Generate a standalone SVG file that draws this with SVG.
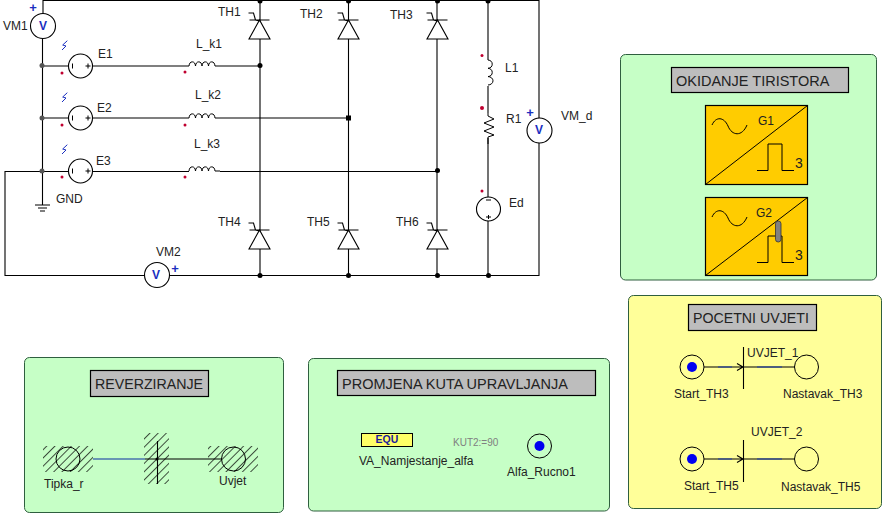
<svg xmlns="http://www.w3.org/2000/svg" width="882" height="513" viewBox="0 0 882 513">
<style>
text{font-family:"Liberation Sans",Arial,sans-serif;font-size:12px;fill:#222}
.t{font-size:14.5px}
.t2{font-size:14.2px}
.w{fill:none;stroke:#000;stroke-width:1.1}
.f{fill:#fff;stroke:#000;stroke-width:1.1}
.n{fill:none;stroke:#000;stroke-width:1}
.v{font-size:12px;font-weight:bold;fill:#1a2fc0}
.p{font-weight:bold;font-size:13px;fill:#1a2fc0}
.pg{stroke:#2f5f3f;stroke-width:1}
.title{fill:#bdbdbd;stroke:#000;stroke-width:1.2}
.r{fill:#c00030}
.g{fill:#ffcc00;stroke:#000;stroke-width:1.2}
.d{fill:#000}
.m{fill:#555}
.b{fill:#0000f0}
.bw{fill:none;stroke:#1a3fb0;stroke-width:1.2}
.big{font-size:14px}
</style>
<defs>
<pattern id="h" width="5.800" height="5.800" patternUnits="userSpaceOnUse" patternTransform="rotate(-45)"><line x1="0" y1="0.5" x2="5.800" y2="0.5" stroke="#000" stroke-width="0.7"/></pattern>
<g id="thy"><path class="f" d="M0 0L-10.500 19H10.500Z"/><path class="w" d="M-10 0H10M-11 -7H-6L-4 0L0 1"/></g>
<g id="src"><circle class="f" r="12"/><path class="n" d="M-8 -2.500V2.500M7.500 -2.500V2.500M5 0H10"/></g>
<path id="coil" class="n" d="M0 0A3.300 5 0 0 1 6.500 0A3.300 5 0 0 1 13 0A3.300 5 0 0 1 19.500 0A3.300 5 0 0 1 26 0H31"/>
<g id="sig"><path class="n" d="M-24 -18C-20 -27 -12 -26 -8 -17C-4 -7 6 -6 11 -18"/><path class="n" d="M21 27.500H32V1H46V27.500H58"/></g>
<g id="wave"><path d="M5.300 -10.300L0.700 -6L4 -5L0 -1" fill="none" stroke="#1a2fc0" stroke-width="1"/></g>
</defs>
<rect width="882" height="513" fill="#fff"/>
<g id="connectors">
<path class="w" d="M43 14V0.500H539V275.500H5V171.500H80M42.500 38V205M42 66H260M42 118H348M80 171.500H437"/>
<path class="w" d="M260 0V275.500M348.500 0V275.500M437 0V275.500M488 0V275.500"/>
<circle class="d" cx="260" cy="1" r="2.500"/><circle class="d" cx="348.500" cy="1" r="2.500"/><circle class="d" cx="437.500" cy="1" r="2.500"/><circle class="d" cx="488" cy="1" r="2.500"/>
<circle class="d" cx="260" cy="65.500" r="2.500"/><rect class="d" x="346" y="115.500" width="5" height="5"/><circle class="d" cx="437.500" cy="170.500" r="2.500"/>
<circle class="d" cx="260" cy="275.500" r="2.500"/><circle class="d" cx="348.500" cy="275.500" r="2.500"/><circle class="d" cx="437.500" cy="275.500" r="2.500"/><circle class="d" cx="488.500" cy="275.500" r="2.500"/>
<circle class="m" cx="42" cy="65.500" r="2.500"/><circle class="m" cx="42" cy="118" r="2.500"/><circle class="m" cx="42" cy="171" r="2.500"/>
</g>
<g id="VM1"><circle class="f" cx="43" cy="26" r="12.500"/><text class="v" x="43" y="30" text-anchor="middle">V</text><text class="p" x="33" y="12" text-anchor="middle">+</text><text x="3" y="30">VM1</text></g>
<g id="E1"><use href="#src" x="80.500" y="66"/><use href="#wave" x="62" y="51"/><circle class="r" cx="62" cy="73" r="1.500"/><text x="98" y="58">E1</text></g>
<g id="E2"><use href="#src" x="80.500" y="118"/><use href="#wave" x="62" y="103"/><circle class="r" cx="62" cy="125" r="1.500"/><text x="97" y="112">E2</text></g>
<g id="E3"><use href="#src" x="80.500" y="171"/><use href="#wave" x="62" y="155"/><circle class="r" cx="62" cy="177" r="1.500"/><text x="96" y="165">E3</text></g>
<g id="GND"><path class="w" d="M35 205H50M38 208H47M40 211H45"/><text x="56" y="203">GND</text></g>
<g id="L_k1"><rect x="189" y="60" width="31" height="10" fill="#fff"/><use href="#coil" x="189" y="66"/><circle class="r" cx="185" cy="72" r="1.500"/><text x="196" y="48">L_k1</text></g>
<g id="L_k2"><rect x="189" y="112" width="31" height="10" fill="#fff"/><use href="#coil" x="189" y="118"/><circle class="r" cx="185" cy="125" r="1.500"/><text x="195" y="99">L_k2</text></g>
<g id="L_k3"><rect x="189" y="165" width="31" height="10" fill="#fff"/><use href="#coil" x="189" y="171"/><circle class="r" cx="185" cy="177" r="1.500"/><text x="194" y="148">L_k3</text></g>
<g id="TH1"><use href="#thy" x="259.500" y="20"/><text x="218" y="16">TH1</text></g>
<g id="TH2"><use href="#thy" x="348.500" y="20"/><text x="300" y="18">TH2</text></g>
<g id="TH3"><use href="#thy" x="437.500" y="20"/><text x="390" y="19">TH3</text></g>
<g id="TH4"><use href="#thy" x="259.500" y="230"/><text x="218" y="226">TH4</text></g>
<g id="TH5"><use href="#thy" x="348.500" y="230"/><text x="307" y="226">TH5</text></g>
<g id="TH6"><use href="#thy" x="437.500" y="230"/><text x="396" y="226">TH6</text></g>
<g id="VM2"><circle class="f" cx="157" cy="275" r="12.500"/><text class="v" x="156" y="279" text-anchor="middle">V</text><text class="p" x="175" y="273" text-anchor="middle">+</text><text x="156" y="256">VM2</text></g>
<g id="L1"><rect x="484" y="60" width="8" height="26" fill="#fff"/><path class="n" d="M488 60A5 4.200 0 0 1 488 68.300A5 4.200 0 0 1 488 76.600A5 4.200 0 0 1 488 85"/><circle class="r" cx="482" cy="55.500" r="1.500"/><text x="505" y="72">L1</text></g>
<g id="R1"><rect x="484" y="113" width="10" height="25" fill="#fff"/><path class="n" d="M488 113V116L494 119L484 123L494 127L484 131L494 135L488 137V144"/><circle class="r" cx="482" cy="108" r="2"/><text x="506" y="123">R1</text></g>
<g id="VM_d"><circle class="f" cx="539.500" cy="130.500" r="12.500"/><text class="v" x="539" y="134" text-anchor="middle">V</text><text class="p" x="530" y="117" text-anchor="middle">+</text><text x="561" y="120">VM_d</text></g>
<g id="Ed"><circle class="f" cx="488.500" cy="209" r="12"/><path class="n" d="M486 200H491M486 217H491M488.500 215V219"/><circle class="r" cx="482" cy="191" r="1.500"/><text x="509" y="207">Ed</text></g>
<g id="OKIDANJE">
<rect class="pg" x="620.500" y="54.500" width="256" height="225.500" rx="5" fill="#c6ffc6"/>
<rect class="title" x="671.500" y="67.500" width="177" height="25"/>
<text class="t" x="676" y="86">OKIDANJE TIRISTORA</text>
<g id="G1"><rect class="g" x="705.500" y="105.500" width="102" height="79"/><path class="n" d="M705.500 184.500L807.500 105.500"/><use href="#sig" x="736" y="143"/><text x="758" y="125">G1</text><text class="big" x="795" y="168">3</text></g>
<g id="G2"><rect class="g" x="705.500" y="197.500" width="102" height="78"/><path class="n" d="M705.500 275.500L807.500 197.500"/><use href="#sig" x="736" y="235"/><rect x="775.500" y="221" width="5.500" height="21" rx="2.700" fill="#808080" stroke="#333" stroke-width=".8"/><text x="756" y="217">G2</text><text class="big" x="795" y="260">3</text></g>
</g>
<g id="POCETNI">
<rect class="pg" x="628.500" y="295.500" width="253" height="213" rx="5" fill="#ffff99"/>
<rect class="title" x="688.500" y="304.500" width="128" height="26"/>
<text class="t2" x="693" y="323">POCETNI UVJETI</text>
<g id="Start_TH3"><circle class="n" cx="692" cy="367" r="12"/><circle class="b" cx="692" cy="367" r="5"/><text x="674" y="398">Start_TH3</text></g>
<g id="UVJET_1"><path class="w" d="M704 367H795M743.500 347V389M737 363.500L743 367L737 370.500"/><path class="bw" d="M718 367H732M757 367H782"/><text x="747" y="357">UVJET_1</text></g>
<g id="Nastavak_TH3"><circle class="n" cx="806.500" cy="367" r="12"/><text x="783" y="398">Nastavak_TH3</text></g>
<g id="Start_TH5"><circle class="n" cx="692" cy="459" r="12"/><circle class="b" cx="692" cy="459" r="5"/><text x="684" y="490">Start_TH5</text></g>
<g id="UVJET_2"><path class="w" d="M704 459H795M743.500 440V482M737 455.500L743 459L737 462.500"/><path class="bw" d="M718 459H732M757 459H782"/><text x="751" y="436">UVJET_2</text></g>
<g id="Nastavak_TH5"><circle class="n" cx="806.500" cy="459" r="12"/><text x="781" y="491">Nastavak_TH5</text></g>
</g>
<g id="REVERZIRANJE">
<rect class="pg" x="24.500" y="357.500" width="259" height="155" rx="5" fill="#c6ffc6"/>
<rect class="title" x="90.500" y="370.500" width="118" height="26"/>
<text class="t2" x="95" y="389">REVERZIRANJE</text>
<path d="M93 459H145" fill="none" stroke="#0b2fa0" stroke-width="1.200"/>
<path class="w" d="M145 459H222M157.500 441V484"/><circle class="d" cx="157" cy="459" r="1.500"/>
<g id="Tipka_r"><rect x="43" y="446" width="50" height="26" fill="url(#h)"/><circle class="n" cx="68" cy="459" r="12"/><text x="44" y="488">Tipka_r</text></g>
<rect id="hatch_mid" x="144" y="433" width="25" height="51" fill="url(#h)"/>
<g id="Uvjet"><rect x="208" y="446" width="50" height="26" fill="url(#h)"/><circle class="n" cx="233.500" cy="459" r="12"/><text x="219" y="485">Uvjet</text></g>
</g>
<g id="PROMJENA">
<rect class="pg" x="308.500" y="358.500" width="301" height="152.500" rx="5" fill="#c6ffc6"/>
<rect class="title" x="337.500" y="370.500" width="258" height="25"/>
<text class="t" x="342" y="389">PROMJENA KUTA UPRAVLJANJA</text>
<g id="VA_Namjestanje_alfa"><rect x="361.500" y="433.500" width="51" height="13" fill="#ffff66" stroke="#000"/><text x="387" y="443" text-anchor="middle" style="font-size:10.5px;font-weight:bold;fill:#1a1a9c">EQU</text><text x="359" y="465">VA_Namjestanje_alfa</text></g>
<text x="453" y="446" style="font-size:10px;fill:#808080">KUT2:=90</text>
<g id="Alfa_Rucno1"><circle class="n" cx="539.500" cy="446" r="12"/><circle class="b" cx="539.500" cy="446" r="5"/><text x="507" y="476">Alfa_Rucno1</text></g>
</g>
</svg>
